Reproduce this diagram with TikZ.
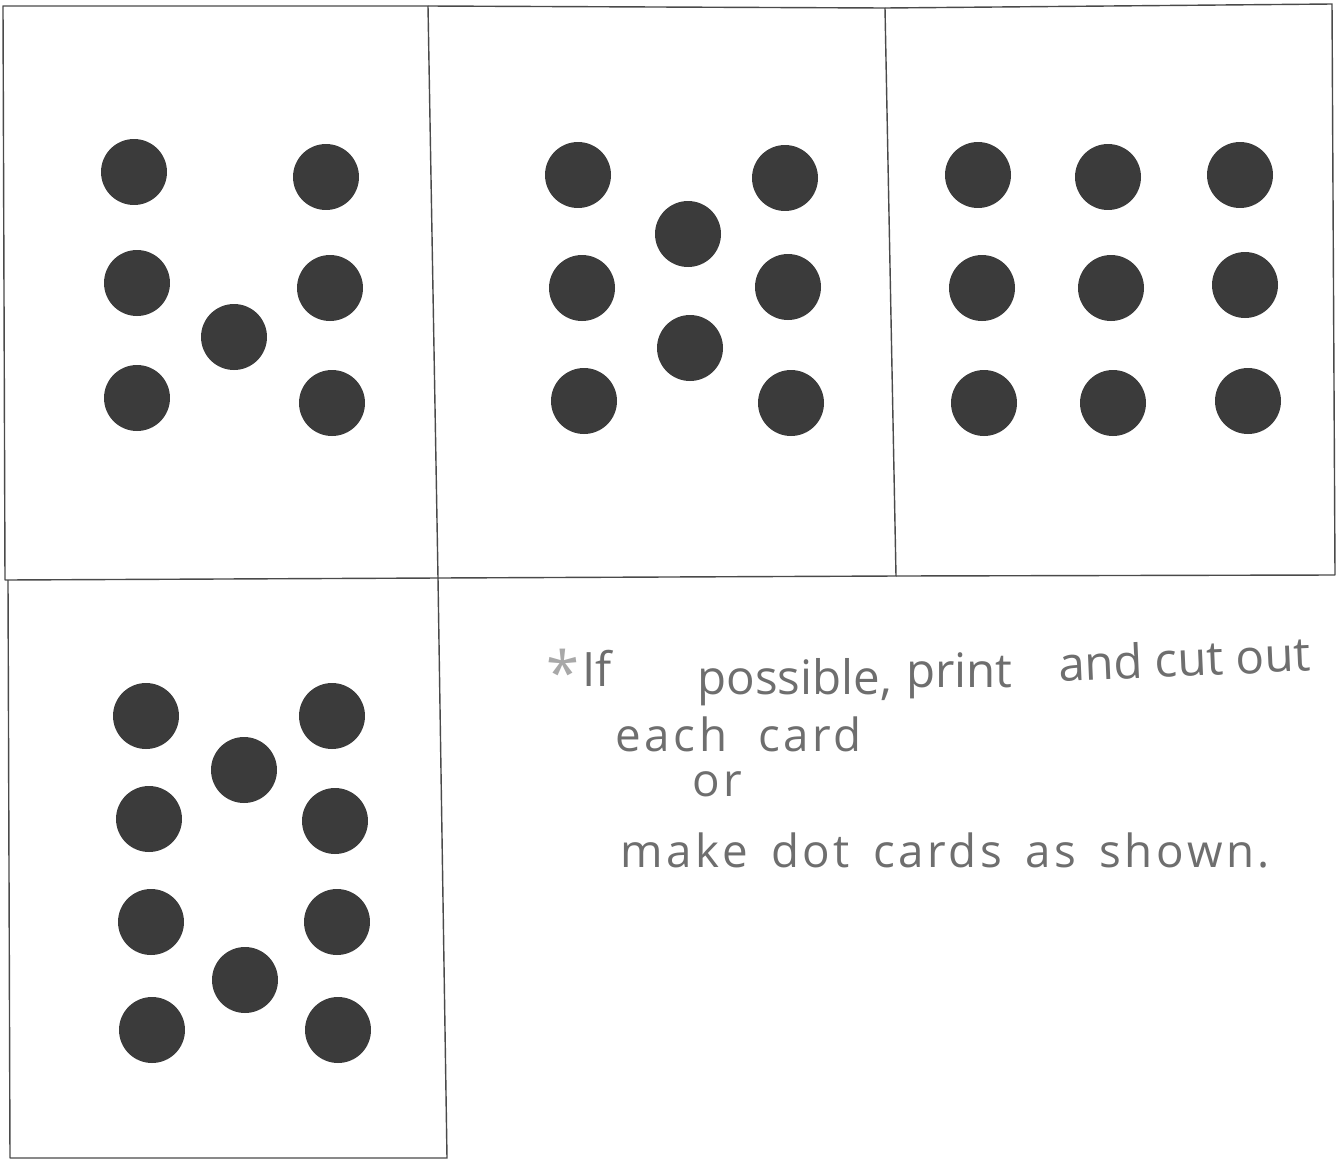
\documentclass[tikz,border=0pt]{standalone}
\usepackage{fontspec}
\newfontfamily\handfont{Open Sans}
\newfontfamily\widehand[LetterSpace=8]{Open Sans}
\usetikzlibrary{positioning}
\definecolor{dotgray}{HTML}{3B3B3B}
\definecolor{linegray}{HTML}{4A4A4A}
\definecolor{pencil}{HTML}{6E6E6E}

\begin{document}
\begin{tikzpicture}[
		x=0.02cm,
		y=-0.02cm,
		card/.style={draw=linegray, line width=0.8pt, line join=round},
		dot/.style={fill=dotgray},
		note/.style={text=pencil, font=\handfont\fontsize{27}{30}\selectfont, inner sep=0pt, anchor=west},
		widenote/.style={note, font=\widehand\fontsize{26}{30}\selectfont}
		]
		\useasboundingbox[fill=white] (0,0) rectangle (1339,1160);
		
		% the four cards (scanned, so a little askew)
		\draw[card] (3,6) -- (428,6) -- (438,578) -- (5,580) -- cycle;
		\draw[card] (428,6) -- (885,8) -- (896,576) -- (438,578);
		\draw[card] (885,8) -- (1332,4) -- (1335,575) -- (896,576);
		\draw[card] (8,580) -- (10,1158) -- (447,1158) -- (438,578);
		
		% seven
		\foreach \x/\y in {134/172, 326/177, 137/283, 330/288, 234/337, 137/398, 332/403}
		\fill[dot] (\x,\y) circle (0.66cm);
		
		% eight
		\foreach \x/\y in {578/175, 785/178, 688/234, 582/288, 788/287, 690/348, 584/401, 791/403}
		\fill[dot] (\x,\y) circle (0.66cm);
		
		% nine
		\foreach \x/\y in {978/175, 1108/177, 1240/175, 982/288, 1111/288, 1245/285, 984/403, 1113/403, 1248/401}
		\fill[dot] (\x,\y) circle (0.66cm);
		
		% ten
		\foreach \x/\y in {146/716, 332/716, 244/770, 149/819, 335/821, 151/922, 337/922, 245/980, 152/1030, 338/1030}
		\fill[dot] (\x,\y) circle (0.66cm);
		
		% note
		\node[note, text=pencil!60, font=\handfont\fontsize{34}{34}\selectfont] (star) at (546,672) {*};
		\node[note] (wIf) at (582,668) {If};
		\node[note] (wpossible) at (697,682) {possible,};
		\node[note] (wprint) at (906,676) {print};
		\node[note, rotate=2.5] (wcut) at (1058,664) {and cut out};
		\node[widenote] (line2) at (615,734) {each \ card};
		\node[widenote] (line3) at (692,784) {or};
		\node[widenote] (line4) at (620,850) {make \,dot \,cards \,as \,shown.};
		
	\end{tikzpicture}
\end{document}
